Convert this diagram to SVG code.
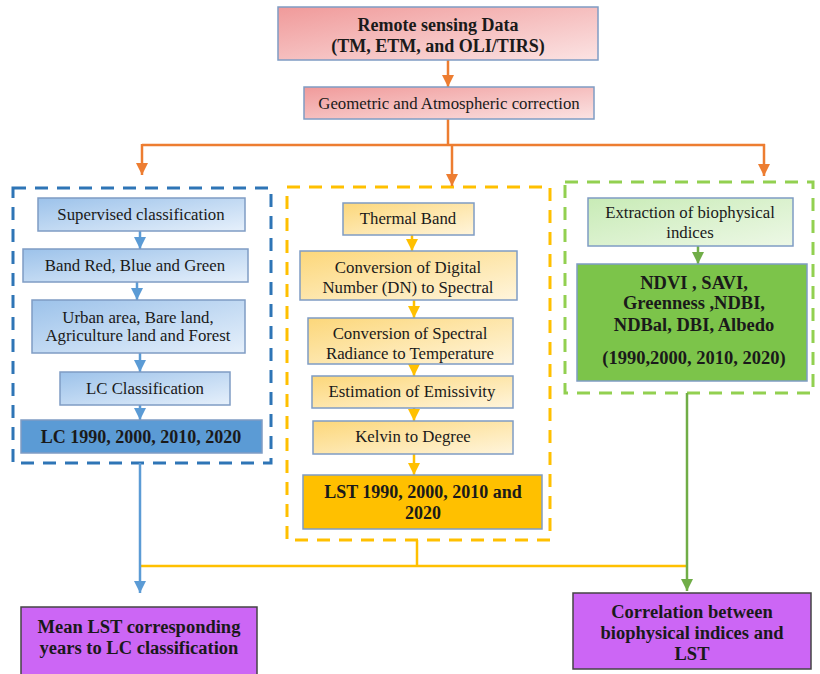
<svg xmlns="http://www.w3.org/2000/svg" width="820" height="674" viewBox="0 0 820 674">
<defs>
<linearGradient id="gRed" x1="0" y1="0" x2="1" y2="1"><stop offset="0" stop-color="#f09a9a"/><stop offset="1" stop-color="#fbe3e3"/></linearGradient>
<linearGradient id="gBlue" x1="0" y1="0" x2="1" y2="1"><stop offset="0" stop-color="#9cc2ea"/><stop offset="1" stop-color="#e6f0fb"/></linearGradient>
<linearGradient id="gYel" x1="0" y1="0" x2="1" y2="1"><stop offset="0" stop-color="#fcd77a"/><stop offset="1" stop-color="#fff5dc"/></linearGradient>
<linearGradient id="gGreen" x1="0" y1="0" x2="1" y2="1"><stop offset="0" stop-color="#c8ebb6"/><stop offset="1" stop-color="#edf8e6"/></linearGradient>
<marker id="aO" viewBox="0 0 10 10" refX="10" refY="5" markerWidth="5" markerHeight="5" orient="auto" markerUnits="strokeWidth"><path d="M0,0L10,5L0,10z" fill="#ed7d31"/></marker>
<marker id="aB" viewBox="0 0 10 10" refX="10" refY="5" markerWidth="5" markerHeight="5" orient="auto" markerUnits="strokeWidth"><path d="M0,0L10,5L0,10z" fill="#5b9bd5"/></marker>
<marker id="aY" viewBox="0 0 10 10" refX="10" refY="5" markerWidth="5" markerHeight="5" orient="auto" markerUnits="strokeWidth"><path d="M0,0L10,5L0,10z" fill="#ffc000"/></marker>
<marker id="aG" viewBox="0 0 10 10" refX="10" refY="5" markerWidth="5" markerHeight="5" orient="auto" markerUnits="strokeWidth"><path d="M0,0L10,5L0,10z" fill="#70ad47"/></marker>
</defs>
<style>
text{font-family:"Liberation Serif","DejaVu Serif",serif;fill:#1a1a1a;text-anchor:middle}
.n{font-size:16.8px}
.b{font-size:18px;font-weight:bold}
.p{font-size:18.5px;font-weight:bold}
.box{stroke:#7f9cc4;stroke-width:1.5}
.dash{fill:none;stroke-width:3;stroke-dasharray:13 9}
.c{fill:none;stroke-width:2.5}
</style>
<rect width="820" height="674" fill="#ffffff"/>

<g id="groups">
<rect id="blueGroup" class="dash" x="13" y="188" width="258" height="275" stroke="#2e75b6"/>
<rect id="yellowGroup" class="dash" x="287" y="187" width="263" height="353" stroke="#ffc000"/>
<rect id="greenGroup" class="dash" x="565" y="182" width="248" height="211" stroke="#92d050"/>
</g>

<g id="connectors">
<line class="c" stroke="#ed7d31" x1="448" y1="60" x2="448" y2="87" marker-end="url(#aO)"/>
<polyline class="c" stroke="#ed7d31" points="448,119 448,145"/>
<polyline class="c" stroke="#ed7d31" points="142,145 765,145"/>
<line class="c" stroke="#ed7d31" x1="142" y1="144" x2="142" y2="175" marker-end="url(#aO)"/>
<line class="c" stroke="#ed7d31" x1="452" y1="144" x2="452" y2="186" marker-end="url(#aO)"/>
<line class="c" stroke="#ed7d31" x1="764" y1="144" x2="764" y2="176" marker-end="url(#aO)"/>

<line class="c" stroke="#5b9bd5" x1="140" y1="231" x2="140" y2="249" marker-end="url(#aB)"/>
<line class="c" stroke="#5b9bd5" x1="137" y1="282" x2="137" y2="300" marker-end="url(#aB)"/>
<line class="c" stroke="#5b9bd5" x1="140" y1="353" x2="140" y2="372" marker-end="url(#aB)"/>
<line class="c" stroke="#5b9bd5" x1="140" y1="405" x2="140" y2="420" marker-end="url(#aB)"/>

<line class="c" stroke="#ffc000" x1="412" y1="235" x2="412" y2="251" marker-end="url(#aY)"/>
<line class="c" stroke="#ffc000" x1="414" y1="300" x2="414" y2="318" marker-end="url(#aY)"/>
<line class="c" stroke="#ffc000" x1="414" y1="364" x2="414" y2="376" marker-end="url(#aY)"/>
<line class="c" stroke="#ffc000" x1="414" y1="408" x2="414" y2="421" marker-end="url(#aY)"/>
<line class="c" stroke="#ffc000" x1="414" y1="454" x2="414" y2="475" marker-end="url(#aY)"/>

<line class="c" stroke="#70ad47" x1="698" y1="246" x2="698" y2="264" marker-end="url(#aG)"/>

<polyline class="c" stroke="#ffc000" points="417,540 417,566"/>
<polyline class="c" stroke="#ffc000" points="140,566 687,566"/>
<line class="c" stroke="#5b9bd5" x1="140" y1="463" x2="140" y2="593" marker-end="url(#aB)"/>
<line class="c" stroke="#70ad47" x1="687" y1="393" x2="687" y2="591" marker-end="url(#aG)"/>
</g>

<g id="remoteSensing">
<rect class="box" x="278" y="7" width="320" height="53" fill="url(#gRed)"/>
<text class="b" x="438" y="31">Remote sensing Data</text>
<text class="b" x="438" y="52">(TM, ETM, and OLI/TIRS)</text>
</g>
<g id="correction">
<rect class="box" x="304" y="87" width="290" height="32" fill="url(#gRed)"/>
<text class="n" x="449" y="109">Geometric and Atmospheric correction</text>
</g>

<g id="supervised">
<rect class="box" x="38" y="198" width="207" height="33" fill="url(#gBlue)"/>
<text class="n" x="141" y="220">Supervised classification</text>
</g>
<g id="bandRGB">
<rect class="box" x="23" y="249" width="225" height="33" fill="url(#gBlue)"/>
<text class="n" x="135" y="271">Band Red, Blue and Green</text>
</g>
<g id="landTypes">
<rect class="box" x="32" y="300" width="213" height="53" fill="url(#gBlue)"/>
<text class="n" x="138" y="323">Urban area, Bare land,</text>
<text class="n" x="138" y="341">Agriculture land and Forest</text>
</g>
<g id="lcClass">
<rect class="box" x="60" y="372" width="170" height="33" fill="url(#gBlue)"/>
<text class="n" x="145" y="394">LC Classification</text>
</g>
<g id="lcYears">
<rect class="box" x="21" y="420" width="241" height="33" fill="#5b9bd5"/>
<text class="b" x="141" y="443">LC 1990, 2000, 2010, 2020</text>
</g>

<g id="thermal">
<rect class="box" x="343" y="203" width="131" height="32" fill="url(#gYel)"/>
<text class="n" x="408" y="224">Thermal Band</text>
</g>
<g id="convDN">
<rect class="box" x="300" y="251" width="217" height="49" fill="url(#gYel)"/>
<text class="n" x="408" y="273">Conversion of Digital</text>
<text class="n" x="408" y="293">Number (DN) to Spectral</text>
</g>
<g id="convRad">
<rect class="box" x="308" y="318" width="205" height="46" fill="url(#gYel)"/>
<text class="n" x="410" y="339">Conversion of Spectral</text>
<text class="n" x="410" y="359">Radiance to Temperature</text>
</g>
<g id="emissivity">
<rect class="box" x="312" y="376" width="201" height="32" fill="url(#gYel)"/>
<text class="n" x="412" y="397">Estimation of Emissivity</text>
</g>
<g id="kelvin">
<rect class="box" x="313" y="421" width="200" height="33" fill="url(#gYel)"/>
<text class="n" x="413" y="442">Kelvin to Degree</text>
</g>
<g id="lstYears">
<rect class="box" x="303" y="475" width="239" height="54" fill="#ffc000"/>
<text class="b" x="423" y="498">LST 1990, 2000, 2010 and</text>
<text class="b" x="423" y="519">2020</text>
</g>

<g id="extraction">
<rect class="box" x="588" y="198" width="205" height="48" fill="url(#gGreen)"/>
<text class="n" x="690" y="218">Extraction of biophysical</text>
<text class="n" x="690" y="238">indices</text>
</g>
<g id="indices">
<rect class="box" x="577" y="264" width="230" height="117" fill="#7cc44a"/>
<text class="p" x="694" y="289">NDVI , SAVI,</text>
<text class="p" x="694" y="309">Greenness ,NDBI,</text>
<text class="p" x="694" y="331">NDBal, DBI, Albedo</text>
<text class="p" x="694" y="364">(1990,2000, 2010, 2020)</text>
</g>

<g id="meanLST">
<rect x="21" y="607" width="236" height="72" fill="#cc66f5" stroke="#444" stroke-width="1.5"/>
<text class="p" x="139" y="633">Mean LST corresponding</text>
<text class="p" x="139" y="654">years to LC classification</text>
</g>
<g id="correlation">
<rect x="573" y="593" width="238" height="76" fill="#cc66f5" stroke="#444" stroke-width="1.5"/>
<text class="p" x="692" y="618">Correlation between</text>
<text class="p" x="692" y="639">biophysical indices and</text>
<text class="p" x="692" y="660">LST</text>
</g>
</svg>
